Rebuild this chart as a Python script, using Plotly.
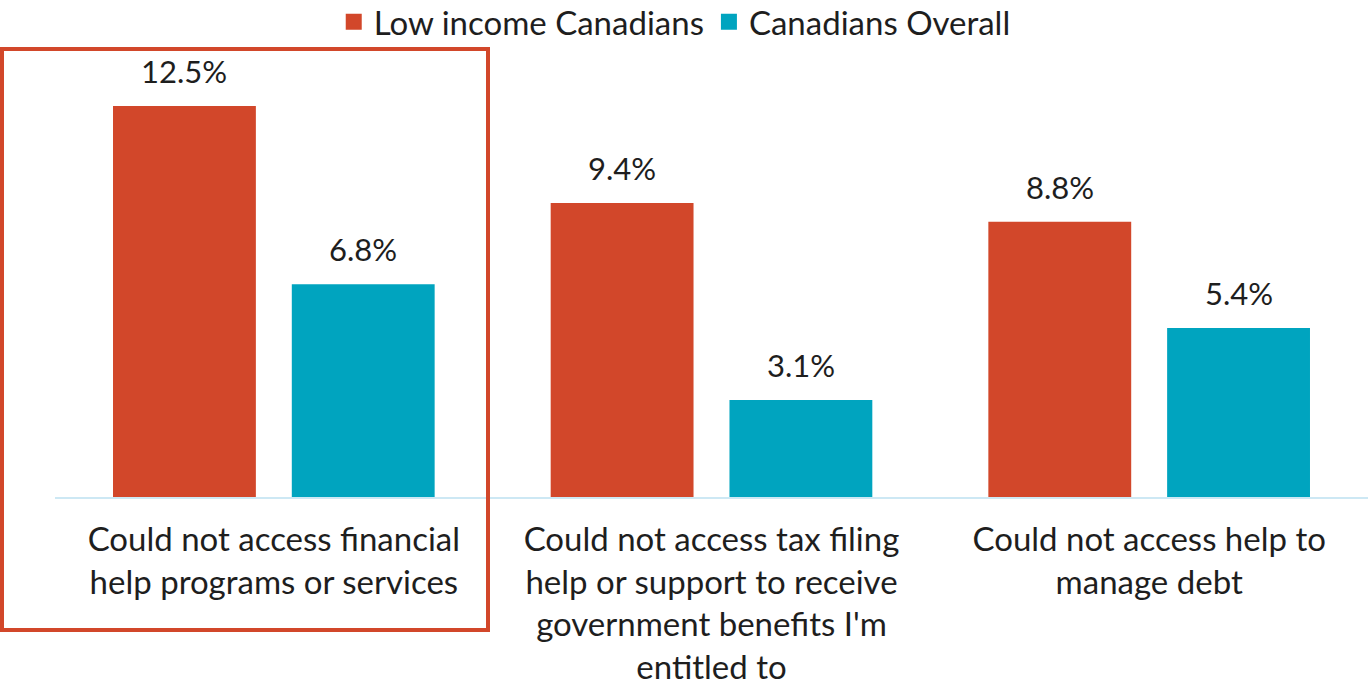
import plotly.graph_objects as go

categories = [
    "Could not access financial<br>help programs or services",
    "Could not access tax filing<br>help or support to receive<br>government benefits I'm<br>entitled to",
    "Could not access help to<br>manage debt",
]
low_income = [12.5, 9.4, 8.8]
overall = [6.8, 3.1, 5.4]
series_names = ["Low income Canadians", "Canadians Overall"]

RED = "#D2472A"
TEAL = "#00A4BF"
FONT = "Lato"
TEXT = "#1E1E1E"

fig = go.Figure()
series = [(series_names[0], low_income, RED, -89.5), (series_names[1], overall, TEAL, 89.5)]
for name, vals, color, shift in series:
    fig.add_trace(go.Bar(
        name=name,
        x=categories,
        y=vals,
        marker=dict(color=color, line=dict(width=0)),
        showlegend=False,
    ))
    # value labels above each bar
    for cat, v in zip(categories, vals):
        fig.add_annotation(
            x=cat, y=v, xref="x", yref="y",
            text=f"{v:.1f}%", showarrow=False,
            xshift=shift, yanchor="bottom", yshift=14,
            font=dict(family=FONT, size=31, color=TEXT),
        )
    # legend entry with a square swatch
    fig.add_trace(go.Scatter(
        name=name, x=[None], y=[None], mode="markers",
        marker=dict(symbol="square", size=22, color=color),
        showlegend=True,
    ))

fig.update_layout(
    width=1368,
    height=687,
    barmode="group",
    bargap=0.183,
    bargroupgap=0.201,
    plot_bgcolor="white",
    paper_bgcolor="white",
    margin=dict(l=55, r=0, t=59, b=190, autoexpand=False),
    font=dict(family=FONT, size=33, color=TEXT),
    legend=dict(
        orientation="h",
        x=0.472, xref="paper", xanchor="center",
        y=1.085, yref="paper", yanchor="middle",
        font=dict(family=FONT, size=33, color=TEXT),
        itemsizing="trace",
        traceorder="normal",
        bgcolor="rgba(0,0,0,0)",
    ),
    xaxis=dict(
        showline=True, linecolor="#CDE8F4", linewidth=2,
        ticks="", showgrid=False,
        tickfont=dict(family=FONT, size=33, color=TEXT),
        ticklabelstandoff=12,
        range=[-0.5, 2.5],
        automargin=False,
    ),
    yaxis=dict(
        range=[0, 14], showgrid=False, showticklabels=False,
        zeroline=False, showline=False, ticks="",
        automargin=False,
    ),
)

# Highlight frame around the first category
fig.add_shape(
    type="rect", xref="paper", yref="paper",
    x0=-53 / 1313, x1=433 / 1313,
    y0=(438 - 630 + 59) / 438, y1=(438 - 49 + 59) / 438,
    line=dict(color=RED, width=4),
    fillcolor="rgba(0,0,0,0)",
    layer="above",
)

fig.write_html("out.html")
